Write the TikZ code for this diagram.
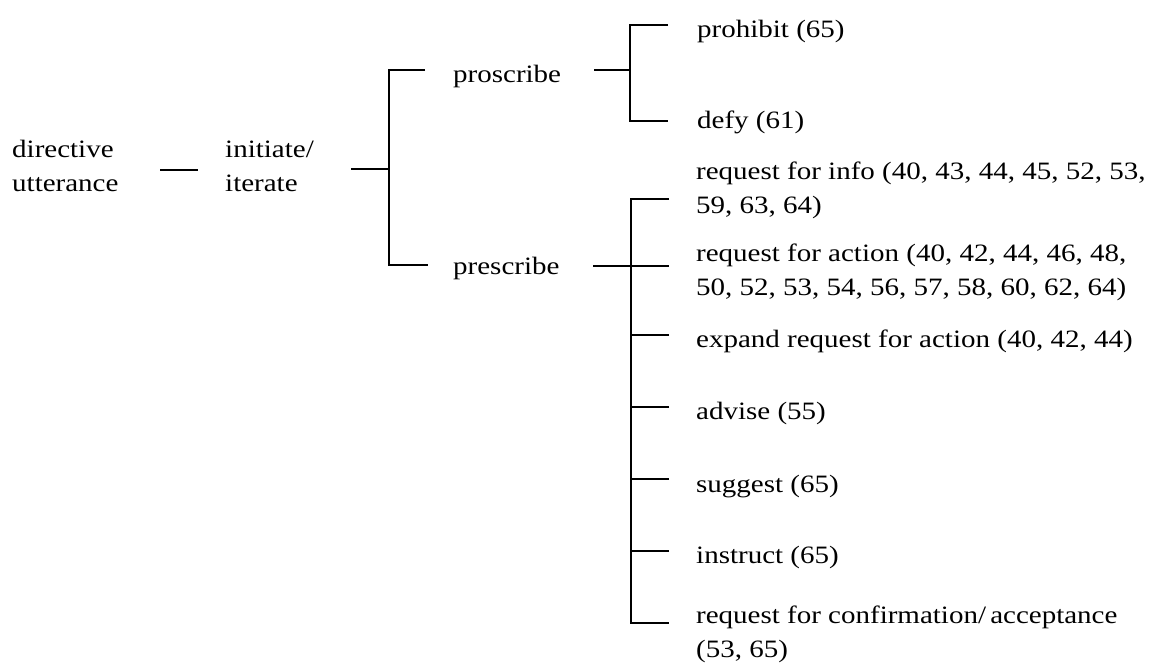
\documentclass[tikz,border=0pt]{standalone}
\usepackage{fontspec}
\setmainfont{Liberation Serif}[FakeStretch=1.16]
\begin{document}
\begin{tikzpicture}[x=1pt,y=-1pt,
  lbl/.style={anchor=base west, inner sep=0pt, align=left,
    font=\fontsize{25}{33.5}\selectfont},
  conn/.style={line width=1.8pt, line cap=butt}]
\useasboundingbox (0,0) rectangle (1152,662);

% labels (two-line labels are placed by the baseline of their last line)
\node[lbl] (du)   at (12,191)  {directive\\utterance};
\node[lbl] (ii)   at (225,191) {initiate/\\iterate};
\node[lbl] (pros) at (453,82)  {proscribe};
\node[lbl] (pres) at (453,274) {prescribe};
\node[lbl] (proh) at (697,37)  {prohibit (65)};
\node[lbl] (defy) at (697,128) {defy (61)};
\node[lbl] (info) at (696,213) {request for info (40, 43, 44, 45, 52, 53,\\59, 63, 64)};
\node[lbl] (act)  at (696,295) {request for action (40, 42, 44, 46, 48,\\50, 52, 53, 54, 56, 57, 58, 60, 62, 64)};
\node[lbl] (exp)  at (696,347) {expand request for action (40, 42, 44)};
\node[lbl] (adv)  at (696,419) {advise (55)};
\node[lbl] (sug)  at (696,492) {suggest (65)};
\node[lbl] (ins)  at (696,563) {instruct (65)};
\node[lbl] (conf) at (696,657) {request for confirmation/\,acceptance\\(53, 65)};

% connector end points
\coordinate (du-o)   at (160,170);
\coordinate (ii-i)   at (198,170);
\coordinate (ii-o)   at (351,169);
\coordinate (j1)     at (389,169);
\coordinate (pros-i) at (425,70);
\coordinate (pres-i) at (428,265);
\coordinate (pros-o) at (594,70);
\coordinate (j2)     at (630,70);
\coordinate (proh-i) at (668,25);
\coordinate (defy-i) at (668,121);
\coordinate (pres-o) at (593,266);
\coordinate (j3)     at (631,266);
\coordinate (info-i) at (669,199);
\coordinate (act-i)  at (669,266);
\coordinate (exp-i)  at (669,335);
\coordinate (adv-i)  at (669,407);
\coordinate (sug-i)  at (669,479);
\coordinate (ins-i)  at (669,551);
\coordinate (conf-i) at (669,623);

% connectors
\draw[conn] (du-o) -- (ii-i);
\draw[conn] (ii-o) -- (j1);
\draw[conn] (pros-i) -| (j1) |- (pres-i);
\draw[conn] (pros-o) -- (j2);
\draw[conn] (proh-i) -| (j2) |- (defy-i);
\draw[conn] (pres-o) -- (act-i);
\draw[conn] (info-i) -| (j3) |- (conf-i);
\foreach \t in {exp-i,adv-i,sug-i,ins-i}
  \draw[conn] (\t) -- (\t -| j3);
\end{tikzpicture}
\end{document}
